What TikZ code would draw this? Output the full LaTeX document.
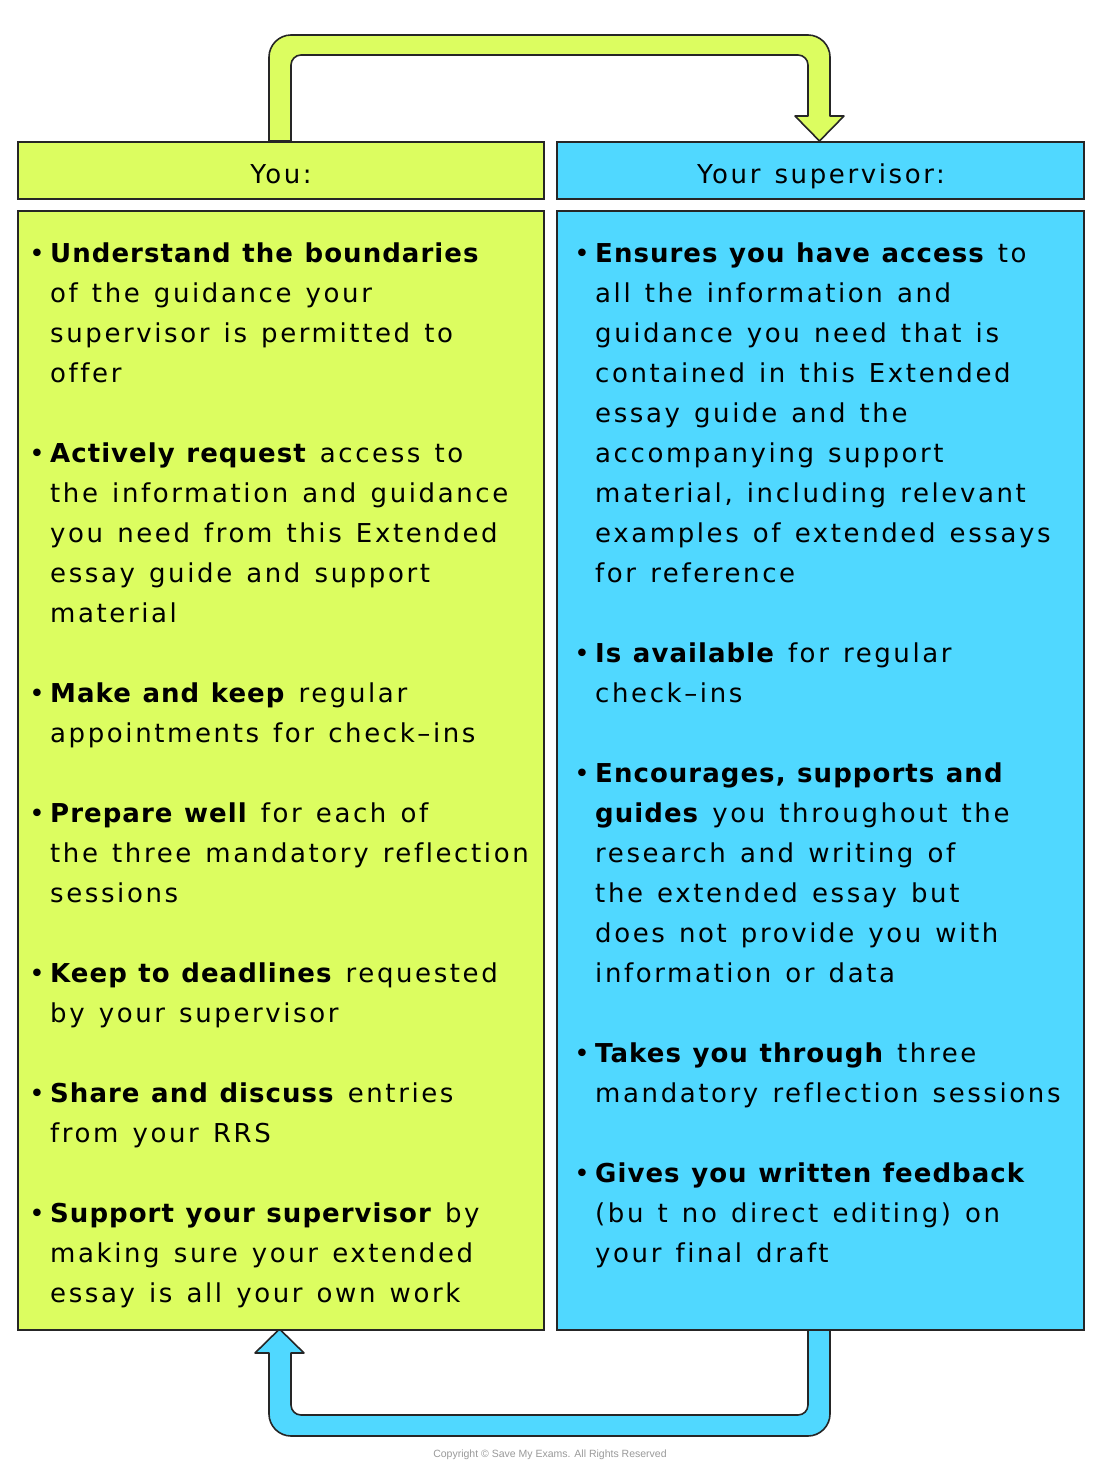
\documentclass[tikz,border=0pt]{standalone}
\usepackage{fontspec}
\setmainfont{DejaVu Sans}[LetterSpace=10, WordSpace=1.3, Ligatures=NoCommon]
\newfontfamily\bfam{DejaVu Sans Bold}[LetterSpace=4, WordSpace=1.15, Ligatures=NoCommon]
\newfontfamily\copyfont{Liberation Sans}
\definecolor{smelime}{HTML}{DCFD60}
\definecolor{smecyan}{HTML}{50D8FF}
\definecolor{linecol}{HTML}{262626}
\definecolor{copygray}{HTML}{9A9A9A}
\newcommand{\bodyfont}{\fontsize{26}{40}\selectfont}
\newcommand{\bt}[1]{{\bfam #1}}
\newcommand{\entry}[5]{%
  \node[bulletmark] (#1b) at (#2,#4) {•};
  \node[bodytext] (#1) at (#3,#4) {\begin{tabular}[t]{@{}l@{}}#5\end{tabular}};}
\tikzset{
  boxline/.style={draw=linecol, line width=1.8pt},
  limebox/.style={boxline, fill=smelime, anchor=north west, inner sep=0pt},
  cyanbox/.style={boxline, fill=smecyan, anchor=north west, inner sep=0pt},
  arrowlime/.style={draw=linecol, line width=1.6pt, fill=smelime, line join=round},
  arrowcyan/.style={draw=linecol, line width=1.6pt, fill=smecyan, line join=round},
  bodytext/.style={anchor=base west, inner sep=0pt, font=\bodyfont, text=black},
  bulletmark/.style={anchor=base, inner sep=0pt, font=\bodyfont, text=black},
  headtext/.style={anchor=base, inner sep=0pt, font=\bodyfont, text=black},
}
\begin{document}
\begin{tikzpicture}[x=1pt, y=-1pt]
\useasboundingbox (0,0) rectangle (1100,1469);
\fill[white] (0,0) rectangle (1100,1469);

% top arrow (You -> supervisor)
\draw[arrowlime] (269,141) -- (269,57) .. controls (269,45) and (279,35) .. (291,35)
  -- (808,35) .. controls (820,35) and (830,45) .. (830,57)
  -- (830,116) -- (844,116) -- (819.5,141) -- (795,116) -- (808,116)
  -- (808,65) .. controls (808,59.5) and (803.5,55) .. (798,55)
  -- (301,55) .. controls (295.5,55) and (291,59.5) .. (291,65)
  -- (291,141) -- cycle;

% bottom arrow (supervisor -> You)
\draw[arrowcyan] (830,1329) -- (830,1414) .. controls (830,1426) and (820,1436) .. (808,1436)
  -- (291,1436) .. controls (279,1436) and (269,1426) .. (269,1414)
  -- (269,1353) -- (255,1353) -- (279.5,1329) -- (304,1353) -- (291,1353)
  -- (291,1405) .. controls (291,1410.5) and (295.5,1415) .. (301,1415)
  -- (798,1415) .. controls (803.5,1415) and (808,1410.5) .. (808,1405)
  -- (808,1329) -- cycle;

% boxes
\node[limebox, minimum width=526pt, minimum height=57pt] (youhead) at (17,141) {};
\node[cyanbox, minimum width=527pt, minimum height=57pt] (suphead) at (556,141) {};
\node[limebox, minimum width=526pt, minimum height=1119pt] (youbody) at (17,210) {};
\node[cyanbox, minimum width=527pt, minimum height=1119pt] (supbody) at (556,210) {};

\node[headtext] (youtitle) at (281,183) {You:};
\node[headtext] (suptitle) at (821,183) {Your supervisor:};

% left column
\entry{l1}{37}{50}{262}{\bt{Understand the boundaries}\\of the guidance your\\supervisor is permitted to\\offer}
\entry{l2}{37}{50}{462}{\bt{Actively request} access to\\the information and guidance\\you need from this Extended\\essay guide and support\\material}
\entry{l3}{37}{50}{702}{\bt{Make and keep} regular\\appointments for check–ins}
\entry{l4}{37}{50}{822}{\bt{Prepare well} for each of\\the three mandatory reflection\\sessions}
\entry{l5}{37}{50}{982}{\bt{Keep to deadlines} requested\\by your supervisor}
\entry{l6}{37}{50}{1102}{\bt{Share and discuss} entries\\from your RRS}
\entry{l7}{37}{50}{1222}{\bt{Support your supervisor} by\\making sure your extended\\essay is all your own work}

% right column
\entry{r1}{582}{595}{262}{\bt{Ensures you have access} to\\all the information and\\guidance you need that is\\contained in this Extended\\essay guide and the\\accompanying support\\material, including relevant\\examples of extended essays\\for reference}
\entry{r2}{582}{595}{662}{\bt{Is available} for regular\\check–ins}
\entry{r3}{582}{595}{782}{\bt{Encourages, supports and}\\\bt{guides} you throughout the\\research and writing of\\the extended essay but\\does not provide you with\\information or data}
\entry{r4}{582}{595}{1062}{\bt{Takes you through} three\\mandatory reflection sessions}
\entry{r5}{582}{595}{1182}{\bt{Gives you written feedback}\\(bu t no direct editing) on\\your final draft}

\node[font=\copyfont\fontsize{10.5}{12}\selectfont, text=copygray, inner sep=0pt] (copyright) at (550,1455) {Copyright © Save My Exams. All Rights Reserved};
\end{tikzpicture}
\end{document}
